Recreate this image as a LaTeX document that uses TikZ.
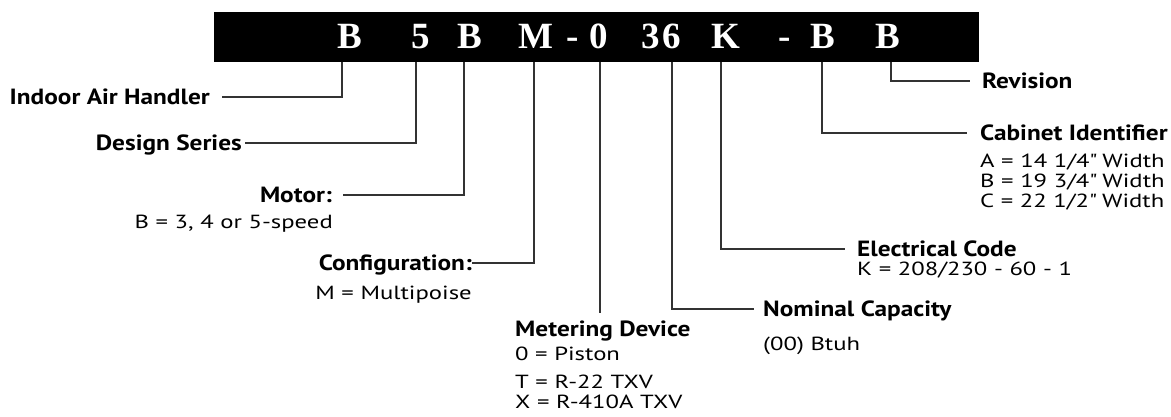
\documentclass[tikz,border=0pt]{standalone}
\usepackage{fontspec}
\newfontfamily\ttlfont{PT Sans}[FakeStretch=1.15]
\newfontfamily\dscfont{PT Sans}[FakeStretch=1.3]
\newfontfamily\codefont{Liberation Serif}
\usetikzlibrary{positioning}

\tikzset{
  code/.style={text=white, font=\codefont\bfseries\fontsize{37}{40}\selectfont, inner sep=0, anchor=base},
  ttl/.style={font=\ttlfont\bfseries\fontsize{22}{24}\selectfont, inner sep=0, text height=15pt, text depth=0pt},
  dsc/.style={font=\dscfont\fontsize{19}{22}\selectfont, inner sep=0},
  lead/.style={draw=black!80, line width=1.1pt},
}

\begin{document}
\begin{tikzpicture}[x=1pt, y=-1pt]
\useasboundingbox (0,0) rectangle (1171,416);

% ── model number bar ─────────────────────────────────────────────
\node[fill=black, inner sep=0, minimum width=765pt, minimum height=50pt, anchor=north west] (bar) at (214,12) {};
\foreach \ch/\x in {B/350, 5/421, B/470, M/536, -/573, 0/599, 3/651, 6/672, K/726, -/785, B/823, B/888}
    \node[code] (c\x) at (\x,48) {\ch};

% tick points under the bar
\foreach \nm/\x in {iah/342, ser/416, mot/464, cfg/534, met/600, cap/672, ele/721, cab/822, rev/891}
    \coordinate (t\nm) at (\x,62);

% ── left labels ──────────────────────────────────────────────────
\node[ttl, anchor=east] (iah) at (210,97) {Indoor Air Handler};
\node[ttl, anchor=east] (ser) at (242,143) {Design Series};
\node[ttl, anchor=east] (mot) at (332,195) {Motor:};
\node[dsc, anchor=base east] (motd) at (333,228) {B = 3, 4 or 5-speed};
\node[ttl, anchor=east] (cfg) at (472,263) {Configuration:};
\node[dsc, anchor=base east] (cfgd) at (472,299) {M = Multipoise};

% ── bottom label ─────────────────────────────────────────────────
\node[ttl, anchor=west] (met) at (515,329) {Metering Device};
\node[dsc, anchor=base west] (metd1) at (515,360) {0 = Piston};
\node[dsc, anchor=base west] (metd2) at (515,388) {T = R-22 TXV};
\node[dsc, anchor=base west] (metd3) at (515,408) {X = R-410A TXV};

% ── right labels ─────────────────────────────────────────────────
\node[ttl, anchor=west] (cap) at (763,309) {Nominal Capacity};
\node[dsc, anchor=base west] (capd) at (763,350) {(00) Btuh};
\node[ttl, anchor=west] (ele) at (857,249) {Electrical Code};
\node[dsc, anchor=base west] (eled) at (857,275) {K = 208/230 - 60 - 1};
\node[ttl, anchor=west] (cab) at (980,133) {Cabinet Identifier};
\node[dsc, anchor=base west] (cabd1) at (980,167) {A = 14 1/4\textquotedbl{} Width};
\node[dsc, anchor=base west] (cabd2) at (980,187) {B = 19 3/4\textquotedbl{} Width};
\node[dsc, anchor=base west] (cabd3) at (980,207) {C = 22 1/2\textquotedbl{} Width};
\node[ttl, anchor=west] (rev) at (982,81) {Revision};

% ── leader lines ─────────────────────────────────────────────────
\draw[lead, shorten >=12pt] (tiah) |- (iah.east);
\draw[lead, shorten >=3pt] (tser) |- (ser.east);
\draw[lead, shorten >=11pt] (tmot) |- (mot.east);
\draw[lead] (tcfg) |- (cfg.east);
\draw[lead, shorten >=8pt] (tmet) -- (tmet |- met.north);
\draw[lead, shorten >=9pt] (tcap) |- (cap.west);
\draw[lead, shorten >=12pt] (tele) |- (ele.west);
\draw[lead, shorten >=13pt] (tcab) |- (cab.west);
\draw[lead, shorten >=12pt] (trev) |- (rev.west);

\end{tikzpicture}
\end{document}
